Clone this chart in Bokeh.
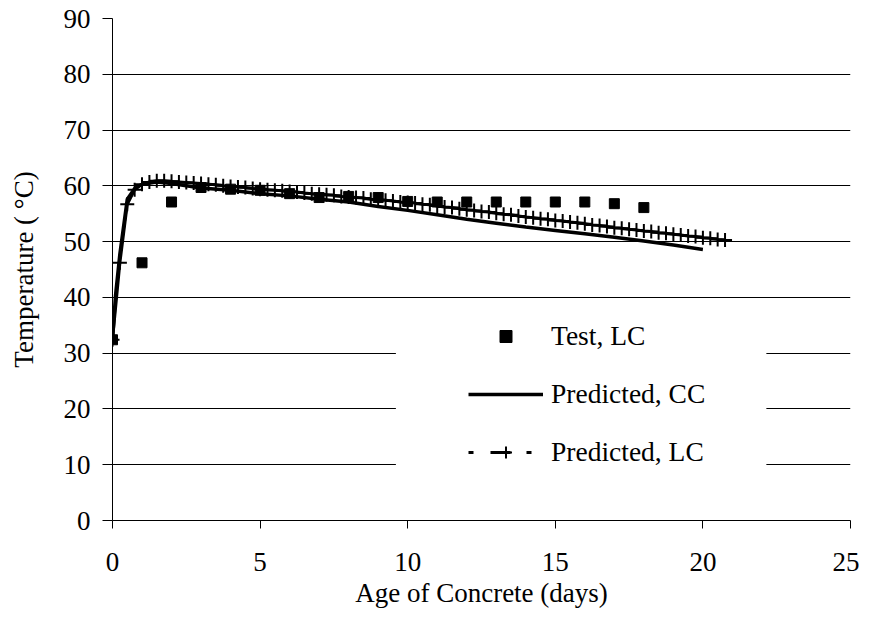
from bokeh.plotting import figure
from bokeh.models import FixedTicker, Legend, LegendItem, BoxAnnotation, Range1d
from bokeh.embed import file_html
from bokeh.resources import INLINE

# ---- data ----
test_days = [0, 1, 2, 3, 4, 5, 6, 7, 8, 9, 10, 11, 12, 13, 14, 15, 16, 17, 18]
test_temp = [32.4, 46.2, 57.1, 59.7, 59.4, 59.2, 58.6, 57.9, 58.1, 57.9,
             57.2, 57.1, 57.1, 57.1, 57.1, 57.1, 57.1, 56.8, 56.1]

cc_days = [0, 0.1, 0.25, 0.5, 0.75, 1, 1.5, 2, 3, 4, 5, 6, 7, 8, 9, 10,
           11, 12, 13, 14, 15, 16, 17, 18, 19, 20]
cc_temp = [32.4, 40.2, 47.8, 57.6, 59.5, 60.3, 60.7, 60.4, 59.6, 59.2, 58.6,
           58.2, 57.6, 57.1, 56.3, 55.6, 54.8, 54.0, 53.3, 52.6, 52.0, 51.4,
           50.8, 50.1, 49.4, 48.6]

lc_days = [0, 0.25, 0.5, 0.75, 1, 1.25, 1.5, 1.75, 2, 2.25, 2.5, 2.75,
           3, 3.25, 3.5, 3.75, 4, 4.25, 4.5, 4.75, 5, 5.25, 5.5, 5.75,
           6, 6.25, 6.5, 6.75, 7, 7.25, 7.5, 7.75, 8, 8.25, 8.5, 8.75,
           9, 9.25, 9.5, 9.75, 10, 10.25, 10.5, 10.75, 11, 11.25, 11.5, 11.75,
           12, 12.25, 12.5, 12.75, 13, 13.25, 13.5, 13.75, 14, 14.25, 14.5, 14.75,
           15, 15.25, 15.5, 15.75, 16, 16.25, 16.5, 16.75, 17, 17.25, 17.5, 17.75,
           18, 18.25, 18.5, 18.75, 19, 19.25, 19.5, 19.75, 20, 20.25, 20.5, 20.75]
lc_temp = [32.4, 46.2, 56.7, 59.3,
           60.3, 60.7, 60.9, 60.9,
           60.8, 60.7, 60.6, 60.5,
           60.4, 60.3, 60.2, 60.0,
           59.9, 59.8, 59.7, 59.5,
           59.4, 59.3, 59.2, 59.1,
           59.0, 58.9, 58.7, 58.6,
           58.5, 58.4, 58.3, 58.1,
           58.0, 57.9, 57.8, 57.6,
           57.5, 57.4, 57.3, 57.1,
           57.0, 56.9, 56.7, 56.6,
           56.4, 56.2, 56.1, 55.9,
           55.7, 55.6, 55.4, 55.3,
           55.1, 54.9, 54.8, 54.6,
           54.4, 54.3, 54.1, 54.0,
           53.8, 53.7, 53.5, 53.4,
           53.2, 53.0, 52.9, 52.7,
           52.5, 52.4, 52.2, 52.1,
           51.9, 51.8, 51.6, 51.5,
           51.3, 51.2, 51.0, 50.9,
           50.7, 50.6, 50.4, 50.3]

x_ticks = [0, 5, 10, 15, 20, 25]
y_ticks = [0, 10, 20, 30, 40, 50, 60, 70, 80, 90]
x_title = "Age of Concrete (days)"
y_title = "Temperature ( \u00b0C)"

FONT = "Liberation Serif"
TICK_SIZE = "27px"
TITLE_SIZE = "27px"
LEGEND_SIZE = "27.5px"

p = figure(width=859, height=610, x_range=(0, 25), y_range=(0, 90),
           output_backend="svg", toolbar_location=None,
           min_border_left=112, min_border_right=9,
           min_border_top=18, min_border_bottom=89)
p.outline_line_color = None
p.background_fill_color = "white"
p.border_fill_color = "white"

p.xgrid.visible = False
p.ygrid.ticker = FixedTicker(ticks=y_ticks)
p.ygrid.grid_line_color = "black"
p.ygrid.grid_line_width = 1

p.xaxis.ticker = FixedTicker(ticks=x_ticks)
p.yaxis.ticker = FixedTicker(ticks=y_ticks)
for ax in (p.xaxis[0], p.yaxis[0]):
    ax.axis_line_color = "black"
    ax.axis_line_width = 1
    ax.major_tick_line_color = "black"
    ax.major_tick_in = 0
    ax.minor_tick_line_color = None
    ax.major_label_text_font = FONT
    ax.major_label_text_font_size = TICK_SIZE
    ax.major_label_text_color = "black"
    ax.axis_label_text_font = FONT
    ax.axis_label_text_font_size = TITLE_SIZE
    ax.axis_label_text_font_style = "normal"
    ax.axis_label_text_color = "black"

p.xaxis.major_tick_out = 8
p.xaxis.major_label_standoff = 24
p.xaxis.axis_label = x_title
p.xaxis.axis_label_standoff = 4

p.yaxis.major_tick_out = 10
p.yaxis.major_label_standoff = 12
p.yaxis.axis_label = y_title
p.yaxis.axis_label_standoff = 22

# series
r_cc = p.line(cc_days, cc_temp, line_color="black", line_width=3.5)
r_lc_line = p.line(lc_days, lc_temp, line_color="black", line_width=3)
r_lc_marks = p.scatter(lc_days, lc_temp, marker="cross", size=14,
                       line_color="black", line_width=2)
r_test = p.scatter(test_days, test_temp, marker="square", size=10,
                   fill_color="black", line_color="black")

# dashed style used only for the legend swatch of the LC prediction
# (drawn against an off-screen range, so only its legend glyph shows)
p.extra_x_ranges = {"legend_only": Range1d(start=100, end=125)}
r_lc_dash = p.line(lc_days, lc_temp, x_range_name="legend_only",
                   line_color="black", line_width=3,
                   line_dash="5 17 20 16 5 30")

# white area behind the legend (hides the gridlines there)
p.add_layout(BoxAnnotation(left=9.6, right=22.15, bottom=7.3, top=36.3,
                           fill_color="white", fill_alpha=1.0,
                           line_color=None))

legend = Legend(items=[
    LegendItem(label="Test, LC", renderers=[r_test]),
    LegendItem(label="Predicted, CC", renderers=[r_cc]),
    LegendItem(label="Predicted, LC", renderers=[r_lc_dash, r_lc_marks]),
], location=(356, 52), orientation="vertical",
    glyph_width=75, glyph_height=30, label_height=30, spacing=26,
    padding=0, margin=0, label_standoff=8,
    border_line_color=None, background_fill_alpha=0,
    label_text_font=FONT, label_text_font_size=LEGEND_SIZE,
    label_text_color="black")
p.add_layout(legend)

open("out.html", "w").write(file_html(p, INLINE))
